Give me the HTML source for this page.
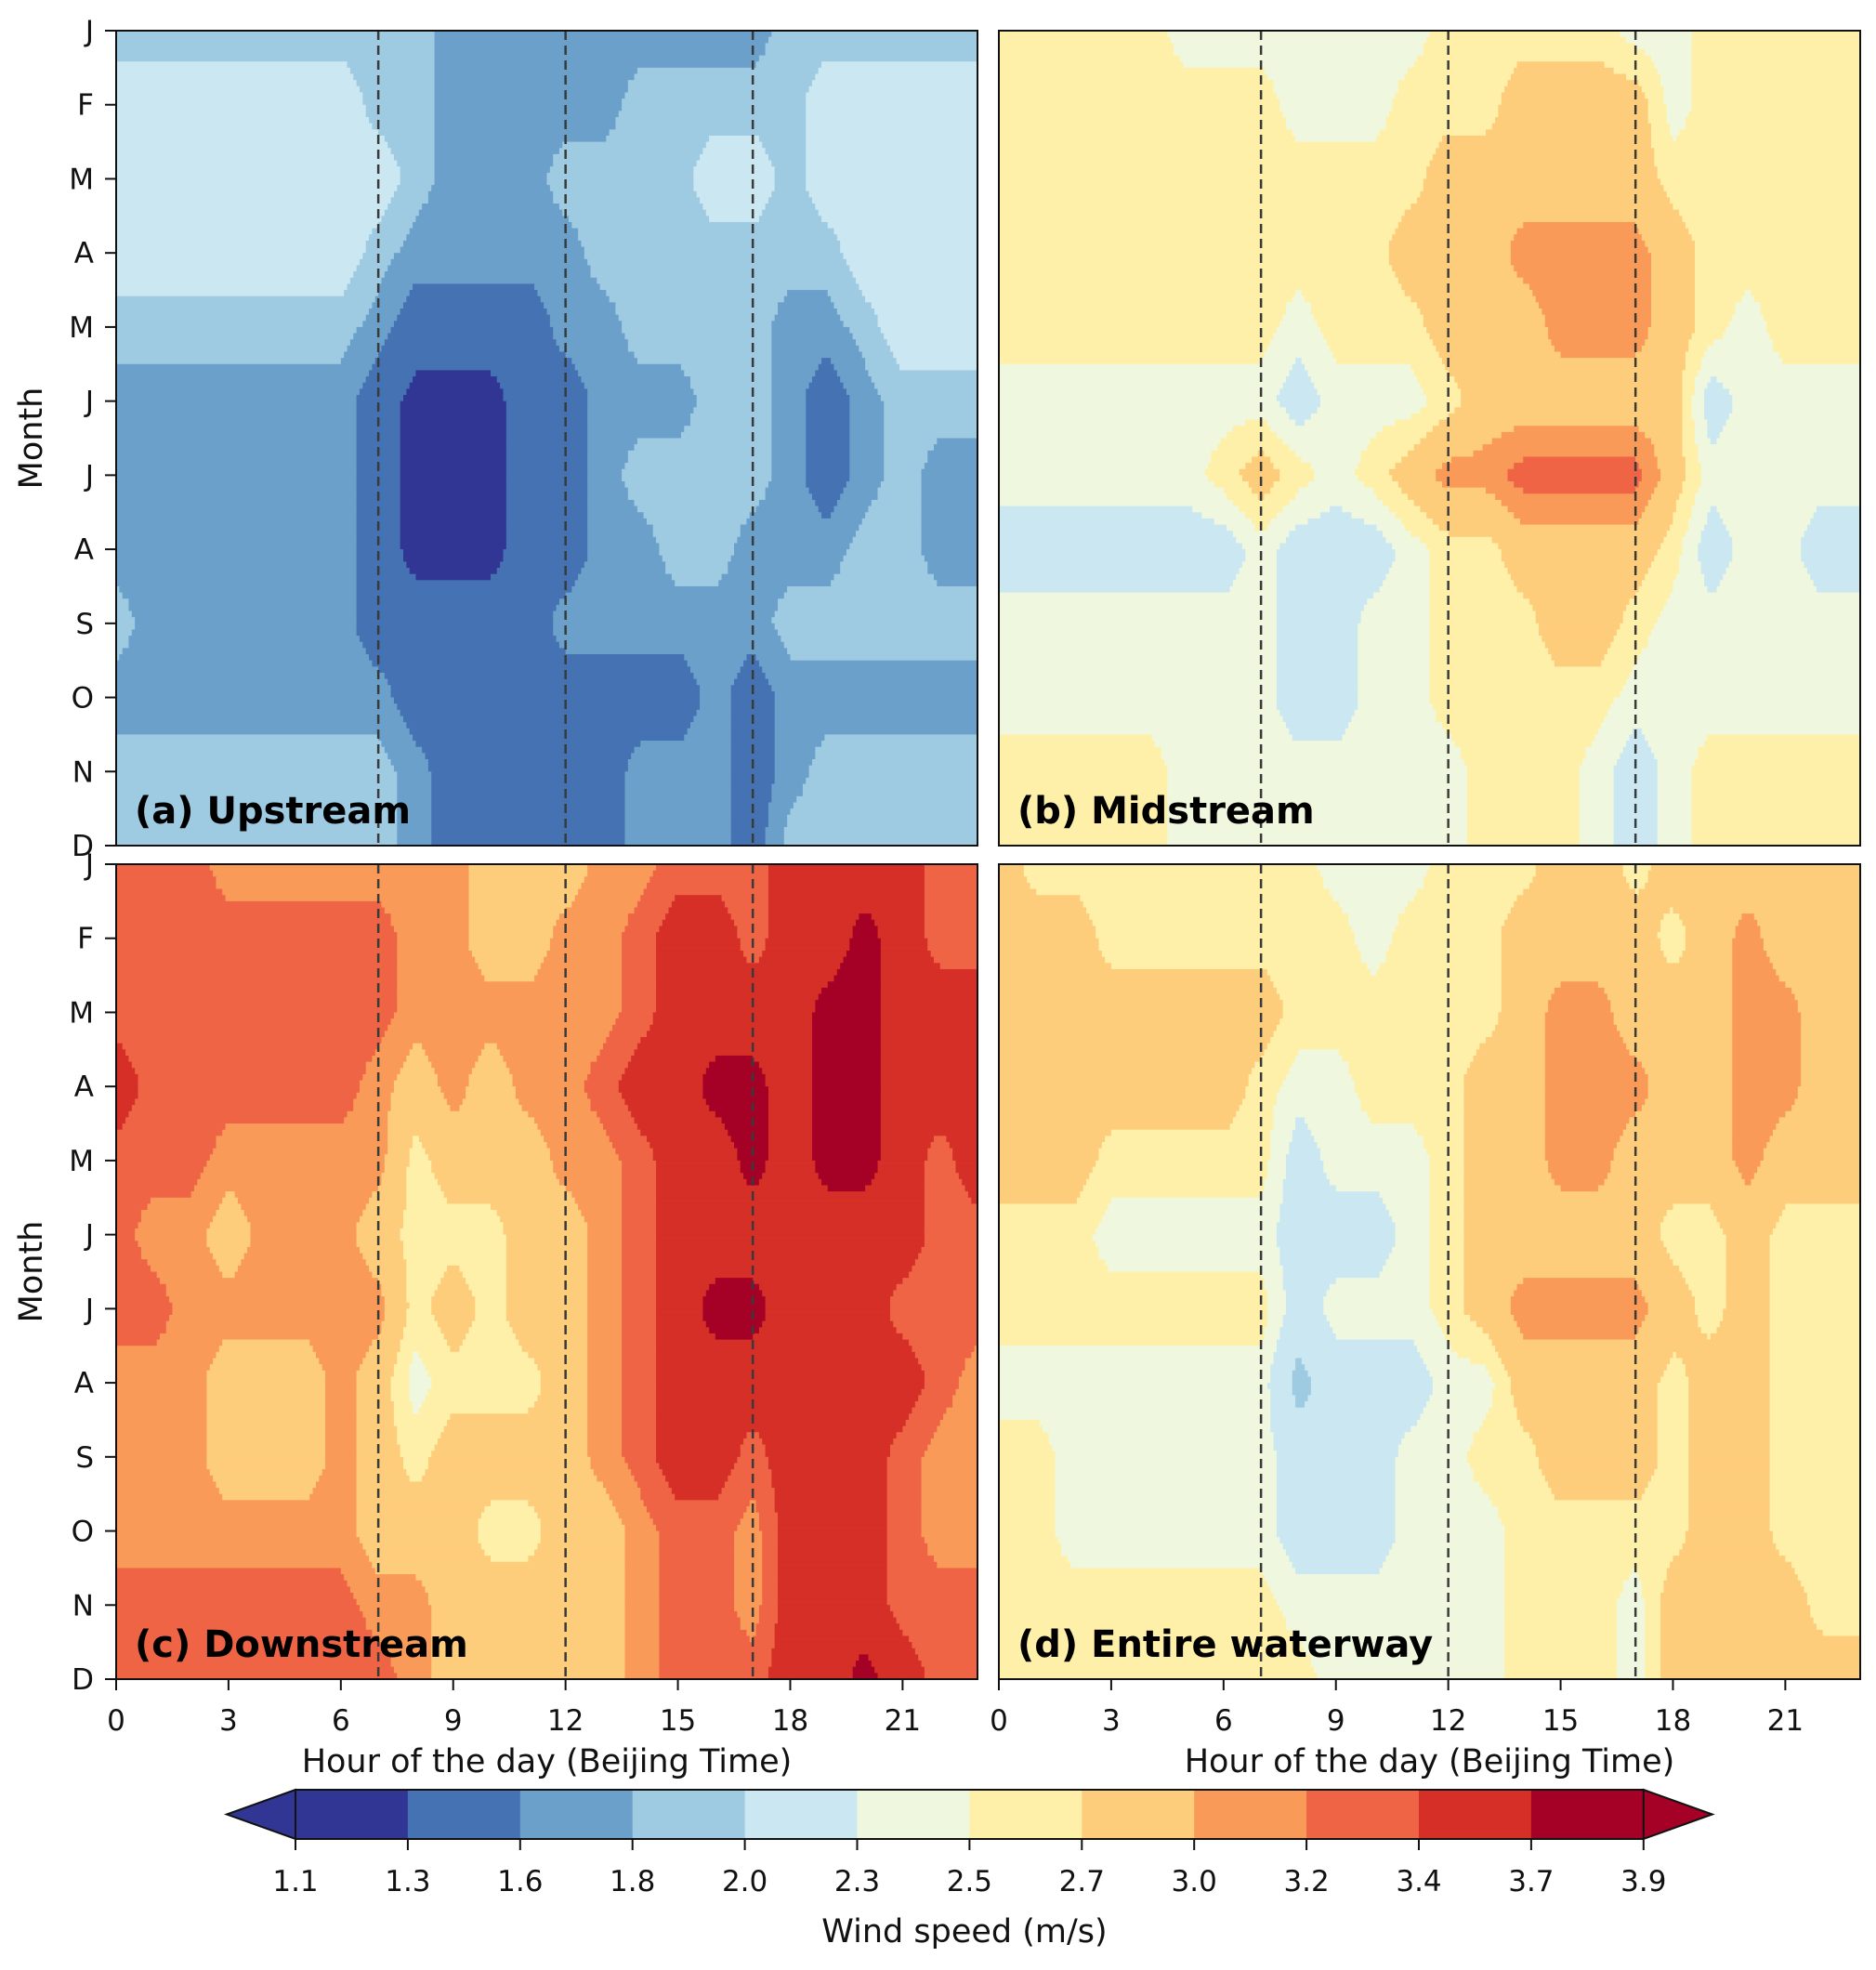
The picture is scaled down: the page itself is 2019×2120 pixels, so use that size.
<!DOCTYPE html>
<html><head><meta charset="utf-8">
<style>
html,body{margin:0;padding:0;background:#fff;}
svg{display:block;font-family:"DejaVu Sans","Liberation Sans",sans-serif;}
</style></head>
<body>
<svg id="fig" width="2019" height="2120" viewBox="0 0 2019 2120" xmlns="http://www.w3.org/2000/svg">
<g id="layer"></g>
</svg>
<script>
const months = ["J","F","M","A","M","J","J","A","S","O","N","D"];
const hourTicks = [0,3,6,9,12,15,18,21];
const levels = [1.1,1.3,1.6,1.8,2.0,2.3,2.5,2.7,3.0,3.2,3.4,3.7,3.9];
const levelLabels = ["1.1","1.3","1.6","1.8","2.0","2.3","2.5","2.7","3.0","3.2","3.4","3.7","3.9"];
const dashedHours = [7,12,17];

const upstream = [
[1.9,1.9,1.9,1.9,1.9,1.9,1.9,1.9,1.9,1.7,1.7,1.7,1.7,1.7,1.7,1.7,1.7,1.7,1.9,1.9,1.9,1.9,1.9,1.9],
[2.15,2.15,2.15,2.15,2.15,2.15,2.15,1.9,1.9,1.7,1.7,1.7,1.7,1.7,1.9,1.9,1.9,1.9,1.9,2.15,2.15,2.15,2.15,2.15],
[2.15,2.15,2.15,2.15,2.15,2.15,2.15,2.15,1.9,1.7,1.7,1.7,1.9,1.9,1.9,1.9,2.15,2.15,1.9,2.15,2.15,2.15,2.15,2.15],
[2.15,2.15,2.15,2.15,2.15,2.15,2.15,1.9,1.7,1.7,1.7,1.7,1.7,1.9,1.9,1.9,1.9,1.9,1.9,1.9,2.15,2.15,2.15,2.15],
[1.9,1.9,1.9,1.9,1.9,1.9,1.9,1.7,1.45,1.45,1.45,1.45,1.7,1.7,1.9,1.9,1.9,1.9,1.7,1.7,1.9,2.15,2.15,2.15],
[1.7,1.7,1.7,1.7,1.7,1.7,1.7,1.45,1.2,1.2,1.2,1.45,1.45,1.7,1.7,1.7,1.9,1.9,1.7,1.45,1.7,1.9,1.9,1.9],
[1.7,1.7,1.7,1.7,1.7,1.7,1.7,1.45,1.2,1.2,1.2,1.45,1.45,1.7,1.9,1.9,1.9,1.9,1.7,1.45,1.7,1.9,1.7,1.7],
[1.7,1.7,1.7,1.7,1.7,1.7,1.7,1.45,1.2,1.2,1.2,1.45,1.45,1.7,1.7,1.9,1.9,1.7,1.7,1.7,1.9,1.9,1.7,1.7],
[1.9,1.7,1.7,1.7,1.7,1.7,1.7,1.45,1.45,1.45,1.45,1.45,1.7,1.7,1.7,1.7,1.7,1.7,1.9,1.9,1.9,1.9,1.9,1.9],
[1.7,1.7,1.7,1.7,1.7,1.7,1.7,1.7,1.45,1.45,1.45,1.45,1.45,1.45,1.45,1.45,1.7,1.45,1.7,1.7,1.7,1.7,1.7,1.7],
[1.9,1.9,1.9,1.9,1.9,1.9,1.9,1.9,1.7,1.45,1.45,1.45,1.45,1.45,1.7,1.7,1.7,1.45,1.7,1.9,1.9,1.9,1.9,1.9],
[1.9,1.9,1.9,1.9,1.9,1.9,1.9,1.9,1.7,1.45,1.45,1.45,1.45,1.45,1.7,1.7,1.7,1.45,1.9,1.9,1.9,1.9,1.9,1.9]
];
const midstream = [
[2.6,2.6,2.6,2.6,2.6,2.4,2.4,2.4,2.4,2.4,2.4,2.4,2.6,2.6,2.6,2.6,2.6,2.4,2.4,2.6,2.6,2.6,2.6,2.6],
[2.6,2.6,2.6,2.6,2.6,2.6,2.6,2.6,2.4,2.4,2.4,2.6,2.6,2.6,2.85,2.85,2.85,2.85,2.4,2.6,2.6,2.6,2.6,2.6],
[2.6,2.6,2.6,2.6,2.6,2.6,2.6,2.6,2.6,2.6,2.6,2.6,2.85,2.85,2.85,2.85,2.85,2.85,2.6,2.6,2.6,2.6,2.6,2.6],
[2.6,2.6,2.6,2.6,2.6,2.6,2.6,2.6,2.6,2.6,2.6,2.85,2.85,2.85,3.1,3.1,3.1,3.1,2.85,2.6,2.6,2.6,2.6,2.6],
[2.6,2.6,2.6,2.6,2.6,2.6,2.6,2.6,2.4,2.6,2.6,2.6,2.85,2.85,2.85,3.1,3.1,3.1,2.85,2.6,2.4,2.6,2.6,2.6],
[2.4,2.4,2.4,2.4,2.4,2.4,2.4,2.4,2.15,2.4,2.4,2.4,2.6,2.85,2.85,2.85,2.85,2.85,2.85,2.15,2.4,2.4,2.4,2.4],
[2.4,2.4,2.4,2.4,2.4,2.4,2.6,2.85,2.6,2.4,2.6,2.85,3.1,3.1,3.3,3.3,3.3,3.3,2.85,2.4,2.4,2.4,2.4,2.4],
[2.15,2.15,2.15,2.15,2.15,2.15,2.15,2.4,2.15,2.15,2.15,2.4,2.6,2.6,2.85,2.85,2.85,2.85,2.6,2.15,2.4,2.4,2.15,2.15],
[2.4,2.4,2.4,2.4,2.4,2.4,2.4,2.4,2.15,2.15,2.4,2.4,2.6,2.6,2.6,2.85,2.85,2.6,2.4,2.4,2.4,2.4,2.4,2.4],
[2.4,2.4,2.4,2.4,2.4,2.4,2.4,2.4,2.15,2.15,2.4,2.4,2.6,2.6,2.6,2.6,2.6,2.4,2.4,2.4,2.4,2.4,2.4,2.4],
[2.6,2.6,2.6,2.6,2.6,2.4,2.4,2.4,2.4,2.4,2.4,2.4,2.4,2.6,2.6,2.6,2.4,2.15,2.4,2.6,2.6,2.6,2.6,2.6],
[2.6,2.6,2.6,2.6,2.6,2.4,2.4,2.4,2.4,2.4,2.4,2.4,2.4,2.6,2.6,2.6,2.4,2.15,2.4,2.6,2.6,2.6,2.6,2.6]
];
const downstream = [
[3.3,3.3,3.3,3.1,3.1,3.1,3.1,3.1,3.1,3.1,2.85,2.85,2.85,3.1,3.1,3.3,3.3,3.3,3.55,3.55,3.55,3.55,3.3,3.3],
[3.3,3.3,3.3,3.3,3.3,3.3,3.3,3.3,3.1,3.1,2.85,2.85,3.1,3.1,3.3,3.55,3.55,3.3,3.55,3.55,3.8,3.55,3.3,3.3],
[3.3,3.3,3.3,3.3,3.3,3.3,3.3,3.3,3.1,3.1,3.1,3.1,3.1,3.1,3.3,3.55,3.55,3.55,3.55,3.8,3.8,3.55,3.55,3.55],
[3.55,3.3,3.3,3.3,3.3,3.3,3.3,3.1,2.85,3.1,2.85,3.1,3.1,3.3,3.55,3.55,3.8,3.8,3.55,3.8,3.8,3.55,3.55,3.55],
[3.3,3.3,3.3,3.1,3.1,3.1,3.1,3.1,2.6,2.85,2.85,2.85,3.1,3.1,3.3,3.55,3.55,3.8,3.55,3.8,3.8,3.55,3.3,3.55],
[3.3,3.1,3.1,2.85,3.1,3.1,3.1,2.85,2.6,2.6,2.6,2.85,2.85,3.1,3.3,3.55,3.55,3.55,3.55,3.55,3.55,3.55,3.3,3.3],
[3.3,3.3,3.1,3.1,3.1,3.1,3.1,3.1,2.6,2.85,2.6,2.85,2.85,3.1,3.3,3.55,3.8,3.8,3.55,3.55,3.55,3.3,3.3,3.3],
[3.1,3.1,3.1,2.85,2.85,2.85,3.1,2.85,2.4,2.6,2.6,2.6,2.85,3.1,3.3,3.55,3.55,3.55,3.55,3.55,3.55,3.55,3.3,3.1],
[3.1,3.1,3.1,2.85,2.85,2.85,3.1,2.85,2.6,2.85,2.85,2.85,2.85,3.1,3.3,3.55,3.55,3.3,3.55,3.55,3.55,3.3,3.1,3.1],
[3.1,3.1,3.1,3.1,3.1,3.1,3.1,2.85,2.85,2.85,2.6,2.6,2.85,2.85,3.1,3.3,3.3,3.1,3.55,3.55,3.55,3.3,3.1,3.1],
[3.3,3.3,3.3,3.3,3.3,3.3,3.3,3.1,3.1,2.85,2.85,2.85,2.85,2.85,3.1,3.3,3.3,3.1,3.55,3.55,3.55,3.3,3.3,3.3],
[3.3,3.3,3.3,3.3,3.3,3.3,3.3,3.3,3.1,2.85,2.85,2.85,2.85,2.85,3.1,3.3,3.3,3.3,3.55,3.55,3.8,3.55,3.3,3.3]
];
const entire = [
[2.85,2.6,2.6,2.6,2.6,2.6,2.6,2.6,2.6,2.4,2.4,2.4,2.6,2.6,2.6,2.85,2.85,2.6,2.85,2.85,2.85,2.85,2.85,2.85],
[2.85,2.85,2.85,2.6,2.6,2.6,2.6,2.6,2.6,2.6,2.4,2.6,2.6,2.6,2.85,2.85,2.85,2.85,2.6,2.85,3.1,2.85,2.85,2.85],
[2.85,2.85,2.85,2.85,2.85,2.85,2.85,2.85,2.6,2.6,2.6,2.6,2.6,2.6,2.85,3.1,3.1,2.85,2.85,2.85,3.1,3.1,2.85,2.85],
[2.85,2.85,2.85,2.85,2.85,2.85,2.85,2.6,2.4,2.4,2.6,2.6,2.6,2.85,2.85,3.1,3.1,3.1,2.85,2.85,3.1,3.1,2.85,2.85],
[2.85,2.85,2.85,2.6,2.6,2.6,2.6,2.6,2.15,2.4,2.4,2.4,2.6,2.85,2.85,3.1,3.1,2.85,2.85,2.85,3.1,2.85,2.85,2.85],
[2.6,2.6,2.6,2.4,2.4,2.4,2.4,2.4,2.15,2.15,2.15,2.4,2.6,2.85,2.85,2.85,2.85,2.85,2.6,2.6,2.85,2.6,2.6,2.6],
[2.6,2.6,2.6,2.6,2.6,2.6,2.6,2.6,2.15,2.4,2.4,2.4,2.6,2.85,3.1,3.1,3.1,3.1,2.85,2.6,2.85,2.6,2.6,2.6],
[2.4,2.4,2.4,2.4,2.4,2.4,2.4,2.4,1.9,2.15,2.15,2.15,2.4,2.4,2.85,2.85,2.85,2.85,2.6,2.85,2.85,2.6,2.6,2.6],
[2.6,2.6,2.4,2.4,2.4,2.4,2.4,2.4,2.15,2.15,2.15,2.4,2.4,2.6,2.6,2.85,2.85,2.85,2.6,2.85,2.85,2.6,2.6,2.6],
[2.6,2.6,2.4,2.4,2.4,2.4,2.4,2.4,2.15,2.15,2.15,2.4,2.4,2.4,2.6,2.6,2.6,2.6,2.6,2.85,2.85,2.6,2.6,2.6],
[2.6,2.6,2.6,2.6,2.6,2.6,2.6,2.6,2.4,2.4,2.4,2.4,2.4,2.4,2.6,2.6,2.6,2.4,2.85,2.85,2.85,2.85,2.6,2.6],
[2.6,2.6,2.6,2.6,2.6,2.6,2.6,2.6,2.6,2.4,2.4,2.4,2.4,2.4,2.6,2.6,2.6,2.4,2.85,2.85,2.85,2.85,2.85,2.85]
];

const COLORS = ['#313695','#4572b2','#6ba0cb','#9ecbe2','#cbe8f2','#eff8de','#fff0a9','#fecd7c','#fa9a59','#ee6445','#d52f27','#a50026'];
const NS = "http://www.w3.org/2000/svg";
const layer = document.getElementById('layer');

function el(tag, attrs, parent){
  const e = document.createElementNS(NS, tag);
  for (const k in attrs) e.setAttribute(k, attrs[k]);
  (parent || layer).appendChild(e);
  return e;
}
function levelIndex(v){
  let i = 0;
  while (i < levels.length - 2 && v >= levels[i+1]) i++;
  return i;
}

const panels = [
  {key:'upstream', data:upstream, title:'(a) Upstream', x0:125, y0:33, w:927, h:877, left:true, bottom:false},
  {key:'midstream', data:midstream, title:'(b) Midstream', x0:1075, y0:33, w:927, h:877, left:false, bottom:false},
  {key:'downstream', data:downstream, title:'(c) Downstream', x0:125, y0:930, w:927, h:877, left:true, bottom:true},
  {key:'entire-waterway', data:entire, title:'(d) Entire waterway', x0:1075, y0:930, w:927, h:877, left:false, bottom:true}
];

panels.forEach(p => {
  const nH = p.data[0].length, nM = p.data.length;
  const xScale = hr => p.x0 + hr * p.w / (nH - 1);
  const yScale = m => p.y0 + m * p.h / (nM - 1);
  const g = el('g', {});
  
  
  const S = 12;
  const cols = (nH - 1) * S, rows = (nM - 1) * S;
  const val = (fx, fy) => {
    const i = Math.min(Math.floor(fx), nH - 2), j = Math.min(Math.floor(fy), nM - 2);
    const tx = fx - i, ty = fy - j;
    const d = p.data;
    return (d[j][i]*(1-tx) + d[j][i+1]*tx)*(1-ty) + (d[j+1][i]*(1-tx) + d[j+1][i+1]*tx)*ty;
  };
  for (let r = 0; r < rows; r++) {
    const fy = (r + 0.5) / S;
    const y1 = yScale(r / S), y2 = yScale((r + 1) / S);
    let start = 0, cur = levelIndex(val(0.5 / S, fy));
    for (let c = 1; c <= cols; c++) {
      const lv = c < cols ? levelIndex(val((c + 0.5) / S, fy)) : -1;
      if (lv !== cur) {
        const x1 = xScale(start / S), x2 = xScale(c / S);
        const rc = el('rect', {x:x1.toFixed(2), y:y1.toFixed(2), width:(x2-x1+0.6).toFixed(2), height:(y2-y1+0.6).toFixed(2), fill:COLORS[cur]}, g);
        
        
        start = c; cur = lv;
      }
    }
  }
  dashedHours.forEach(hr => {
    const ln = el('line', {x1:xScale(hr), x2:xScale(hr), y1:p.y0, y2:p.y0+p.h, stroke:'#3a3a3a', 'stroke-width':2.5, 'stroke-dasharray':'10 6'}, g);
    
    
  });
  const fr = el('rect', {x:p.x0, y:p.y0, width:p.w, height:p.h, fill:'none', stroke:'#111', 'stroke-width':2}, g);
  
  
  const tt = el('text', {x:p.x0+20, y:p.y0+p.h-24, 'font-size':40, 'font-weight':'bold', fill:'#000'}, g);
  tt.textContent = p.title;
  
  
  if (p.left) {
    months.forEach((mn, m) => {
      const y = yScale(m);
      const tk = el('line', {x1:p.x0-12, x2:p.x0, y1:y, y2:y, stroke:'#111', 'stroke-width':2}, g);
      
      
      const tl = el('text', {x:p.x0-24, y:y+11, 'font-size':31, 'text-anchor':'end', fill:'#111'}, g);
      tl.textContent = mn;
      
      
    });
    const yl = el('text', {x:0, y:0, 'font-size':35, 'text-anchor':'middle', fill:'#111', transform:`translate(45 ${p.y0+p.h/2}) rotate(-90)`}, g);
    yl.textContent = 'Month';
    
    
  }
  if (p.bottom) {
    hourTicks.forEach(hr => {
      const x = xScale(hr);
      const tk = el('line', {x1:x, x2:x, y1:p.y0+p.h, y2:p.y0+p.h+12, stroke:'#111', 'stroke-width':2}, g);
      
      
      const tl = el('text', {x:x, y:p.y0+p.h+55, 'font-size':31, 'text-anchor':'middle', fill:'#111'}, g);
      tl.textContent = String(hr);
      
      
    });
    const xl = el('text', {x:p.x0+p.w/2, y:p.y0+p.h+100, 'font-size':35, 'text-anchor':'middle', fill:'#111'}, g);
    xl.textContent = 'Hour of the day (Beijing Time)';
    
    
  }
});

// colorbar
const cb = el('g', {});


const cbX0 = 318, cbStep = 120.9, cbY = 1926, cbH = 53, tip = 74;
const cbX = i => cbX0 + i * cbStep;
for (let i = 0; i < levels.length - 1; i++) {
  const r = el('rect', {x:cbX(i), y:cbY, width:cbStep+0.5, height:cbH, fill:COLORS[i]}, cb);
  
  
}
const lt = el('polygon', {points:`${cbX(0)},${cbY} ${cbX(0)-tip},${cbY+cbH/2} ${cbX(0)},${cbY+cbH}`, fill:COLORS[0], stroke:'#111', 'stroke-width':2}, cb);


const last = levels.length - 1;
const rt = el('polygon', {points:`${cbX(last)},${cbY} ${cbX(last)+tip},${cbY+cbH/2} ${cbX(last)},${cbY+cbH}`, fill:COLORS[COLORS.length-1], stroke:'#111', 'stroke-width':2}, cb);


const cbo = el('path', {d:`M${cbX(0)},${cbY} H${cbX(last)} M${cbX(0)},${cbY+cbH} H${cbX(last)}`, stroke:'#111', 'stroke-width':2, fill:'none'}, cb);


levelLabels.forEach((lb, i) => {
  const tk = el('line', {x1:cbX(i), x2:cbX(i), y1:cbY+cbH, y2:cbY+cbH+12, stroke:'#111', 'stroke-width':2}, cb);
  
  
  const t = el('text', {x:cbX(i), y:2035, 'font-size':31, 'text-anchor':'middle', fill:'#111'}, cb);
  t.textContent = lb;
  
  
});
const cbl = el('text', {x:1038, y:2090, 'font-size':35, 'text-anchor':'middle', fill:'#111'}, cb);
cbl.textContent = 'Wind speed (m/s)';


</script>
</body></html>
